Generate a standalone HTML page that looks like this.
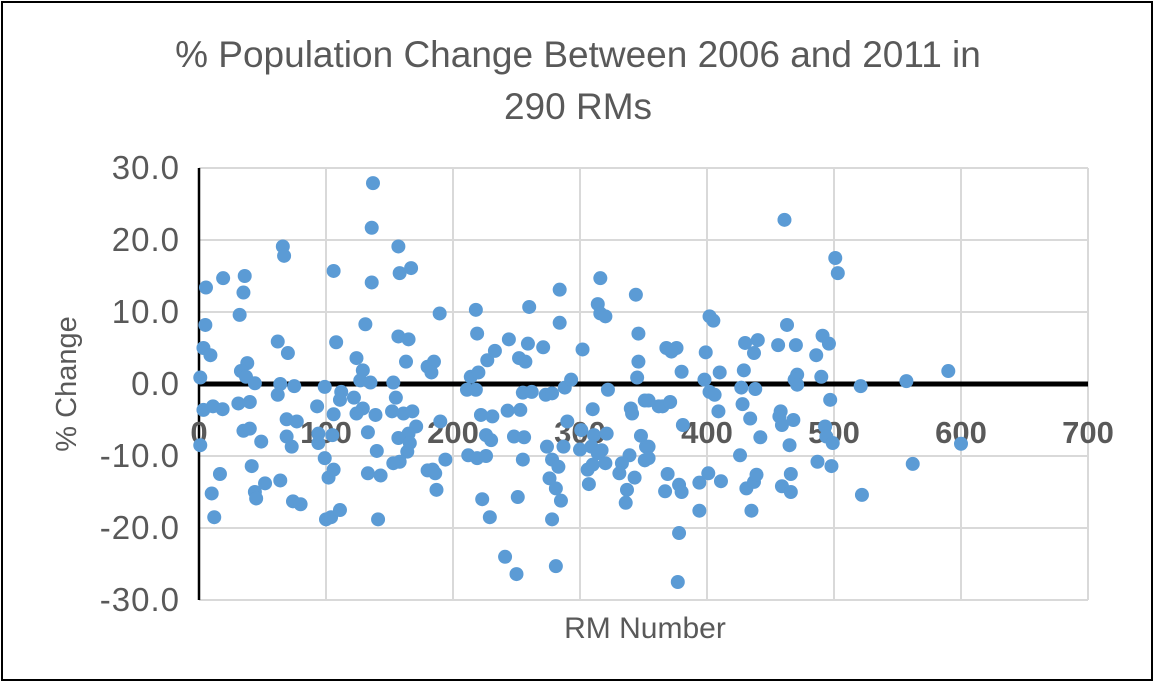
<!DOCTYPE html>
<html><head><meta charset="utf-8"><style>
html,body{margin:0;padding:0;background:#fff;}
svg text{font-family:"Liberation Sans",Arial,sans-serif;}
</style></head><body>
<svg id="chart" width="1155" height="683" viewBox="0 0 1155 683">
<rect x="2" y="2" width="1150" height="678" fill="#fff" stroke="#000" stroke-width="2"/>
<text x="578" y="67" text-anchor="middle" font-size="37" fill="#595959">% Population Change Between 2006 and 2011 in</text>
<text x="578" y="119" text-anchor="middle" font-size="37" fill="#595959">290 RMs</text>
<g id="grid"></g>
<g id="ylabels"></g>
<g id="xlabels"></g>
<g id="points"></g>
<text x="76" y="384" text-anchor="middle" font-size="29" fill="#595959" transform="rotate(-90 76 384)">% Change</text>
<text x="645" y="638" text-anchor="middle" font-size="30" fill="#595959">RM Number</text>
</svg>
<script>
const xTicks=[0,100,200,300,400,500,600,700];
const yTicks=[30,20,10,0,-10,-20,-30];
const yTickLabels=["30.0","20.0","10.0","0.0","-10.0","-20.0","-30.0"];
const rmNumber=[137,136,66,67,157,158,167,106,136,5.5,19,36,35,32,5,131,3.5,9,62,70,108,157,165,163,124,38,33,1,37,44,129,127,135,153,180,64,75,62,99,112,111,93,122,129,124,106,139,155,152,161,168,171,165,157,166,164,158,153,3.5,11,18.6,31,40,69,77,69,73,94,94,105,35,40,49,1,133,140,99,106,102,133,143,41.5,16.5,10,12,44,45,52,64,74,80,100,104,111,141,180,
189.5,218,219,181,185,183,190,194,184,186,187,214,220,211,218,227,233,244,252,257,260,259,271,284,284,255,262,273,278,288,293,222,231,243,253,248,256,226,230,212,219,226,255,274,278,283,276,281,285,287,290,223,229,251,278,241,250,281,302,316,314,316,320,344,346,346,345,322,351,310,340,341,301,311,321,300,309,317,314,348,352,351,320,306,310,307,339,333,331,343,337,336,362,
461,501,503,402,405,463,491,496,368,376,372,399,430,440,437,456,470,486,380,410,429,398,471,469,471,490,521,427,438,402,406,428,434,354,365,371,409,497,458,457,459,468,381,442,465,493,494,499,354,354,426,487,498,369,367,378,380,394,401,411,431,437,439,459,466,466,394,435,378,377,522,557,590,562,600];
const pctChange=[27.9,21.7,19.1,17.8,19.1,15.4,16.1,15.7,14.1,13.4,14.7,15.0,12.7,9.6,8.2,8.3,5.0,4.0,5.9,4.3,5.8,6.6,6.2,3.1,3.6,2.9,1.8,0.9,1.0,0.1,1.9,0.5,0.2,0.2,2.4,0,-0.3,-1.5,-0.4,-1.1,-2.2,-3.1,-1.9,-3.4,-4.1,-4.2,-4.3,-1.9,-3.8,-4.1,-3.8,-5.9,-6.9,-7.5,-8.2,-9.4,-10.8,-11.0,-3.6,-3.1,-3.5,-2.7,-2.5,-4.9,-5.2,-7.3,-8.7,-6.9,-8.2,-7.1,-6.5,-6.2,-8.0,-8.5,-6.7,-9.3,-10.3,-11.9,-13.0,-12.4,-12.7,-11.4,-12.5,-15.2,-18.5,-15.0,-15.9,-13.8,-13.4,-16.3,-16.7,-18.8,-18.5,-17.5,-18.8,-12.0,
9.8,10.3,7.0,2.4,3.1,1.6,-5.2,-10.5,-11.9,-12.4,-14.7,1.0,1.6,-0.8,-0.8,3.3,4.6,6.2,3.6,3.1,10.7,5.6,5.1,13.1,8.5,-1.2,-1.1,-1.5,-1.3,-0.5,0.6,-4.3,-4.5,-3.7,-3.6,-7.3,-7.4,-7.1,-7.8,-9.9,-10.3,-10.0,-10.5,-8.7,-10.5,-11.5,-13.1,-14.5,-16.2,-8.7,-5.2,-16.0,-18.5,-15.7,-18.8,-24.0,-26.4,-25.3,4.8,14.7,11.1,9.8,9.4,12.4,7.0,3.1,0.9,-0.8,-2.3,-3.5,-3.4,-4.1,-6.4,-7.1,-6.9,-9.1,-8.7,-9.2,-9.6,-7.2,-8.7,-10.6,-11.0,-11.9,-11.2,-13.9,-9.9,-11.0,-12.4,-13.0,-14.7,-16.5,-3.1,
22.8,17.5,15.4,9.4,8.8,8.2,6.7,5.6,5.0,5.0,4.5,4.4,5.7,6.1,4.3,5.4,5.4,4.0,1.7,1.6,1.9,0.6,1.3,0.6,-0.1,1.0,-0.3,-0.5,-0.7,-1.1,-1.5,-2.8,-4.8,-2.3,-3.1,-2.5,-3.8,-2.2,-3.8,-4.5,-5.7,-5.0,-5.7,-7.4,-8.5,-5.9,-7.3,-8.2,-8.7,-10.3,-9.9,-10.8,-11.4,-12.5,-14.9,-14.0,-15.0,-13.7,-12.4,-13.5,-14.5,-13.6,-12.6,-14.2,-12.5,-15.0,-17.6,-17.6,-20.7,-27.5,-15.4,0.4,1.8,-11.1,-8.3];

const X0=199,X1=1088,Y0=168,Y1=600,XMAX=700,YMIN=-30,YMAX=30;
const sx=v=>X0+(v/XMAX)*(X1-X0);
const sy=v=>Y0+(YMAX-v)/(YMAX-YMIN)*(Y1-Y0);
const NS="http://www.w3.org/2000/svg";
function mk(t,a){const e=document.createElementNS(NS,t);for(const k in a)e.setAttribute(k,a[k]);return e;}
const grid=document.getElementById('grid');
yTicks.forEach((v,i)=>{
  const l=mk('line',{x1:X0,x2:X1,y1:sy(v),y2:sy(v),stroke:'#d9d9d9','stroke-width':2});
  
  
  grid.appendChild(l);
  const t=mk('text',{x:180,y:sy(v)+11,'text-anchor':'end','font-size':33,'letter-spacing':1,fill:'#595959'});
  t.textContent=yTickLabels[i];
  
  
  document.getElementById('ylabels').appendChild(t);
});
xTicks.forEach(v=>{
  if(v>0){
  const l=mk('line',{x1:sx(v),x2:sx(v),y1:Y0,y2:Y1,stroke:'#d9d9d9','stroke-width':2});
  
  
  grid.appendChild(l);}
  const t=mk('text',{x:sx(v),y:sy(0)+59,'text-anchor':'middle','font-size':31,'font-weight':'bold',fill:'#595959'});
  t.textContent=String(v);
  
  
  document.getElementById('xlabels').appendChild(t);
});
const ya=mk('line',{x1:X0,x2:X0,y1:Y0,y2:Y1,stroke:'#000','stroke-width':2.5});


grid.appendChild(ya);
const xa=mk('line',{x1:X0,x2:X1,y1:sy(0),y2:sy(0),stroke:'#000','stroke-width':5});


grid.appendChild(xa);
const pg=document.getElementById('points');
rmNumber.forEach((x,i)=>{
  const c=mk('circle',{cx:sx(x),cy:sy(pctChange[i]),r:7,fill:'#5b9bd5'});
  
  
  pg.appendChild(c);
});
</script>
</body></html>
